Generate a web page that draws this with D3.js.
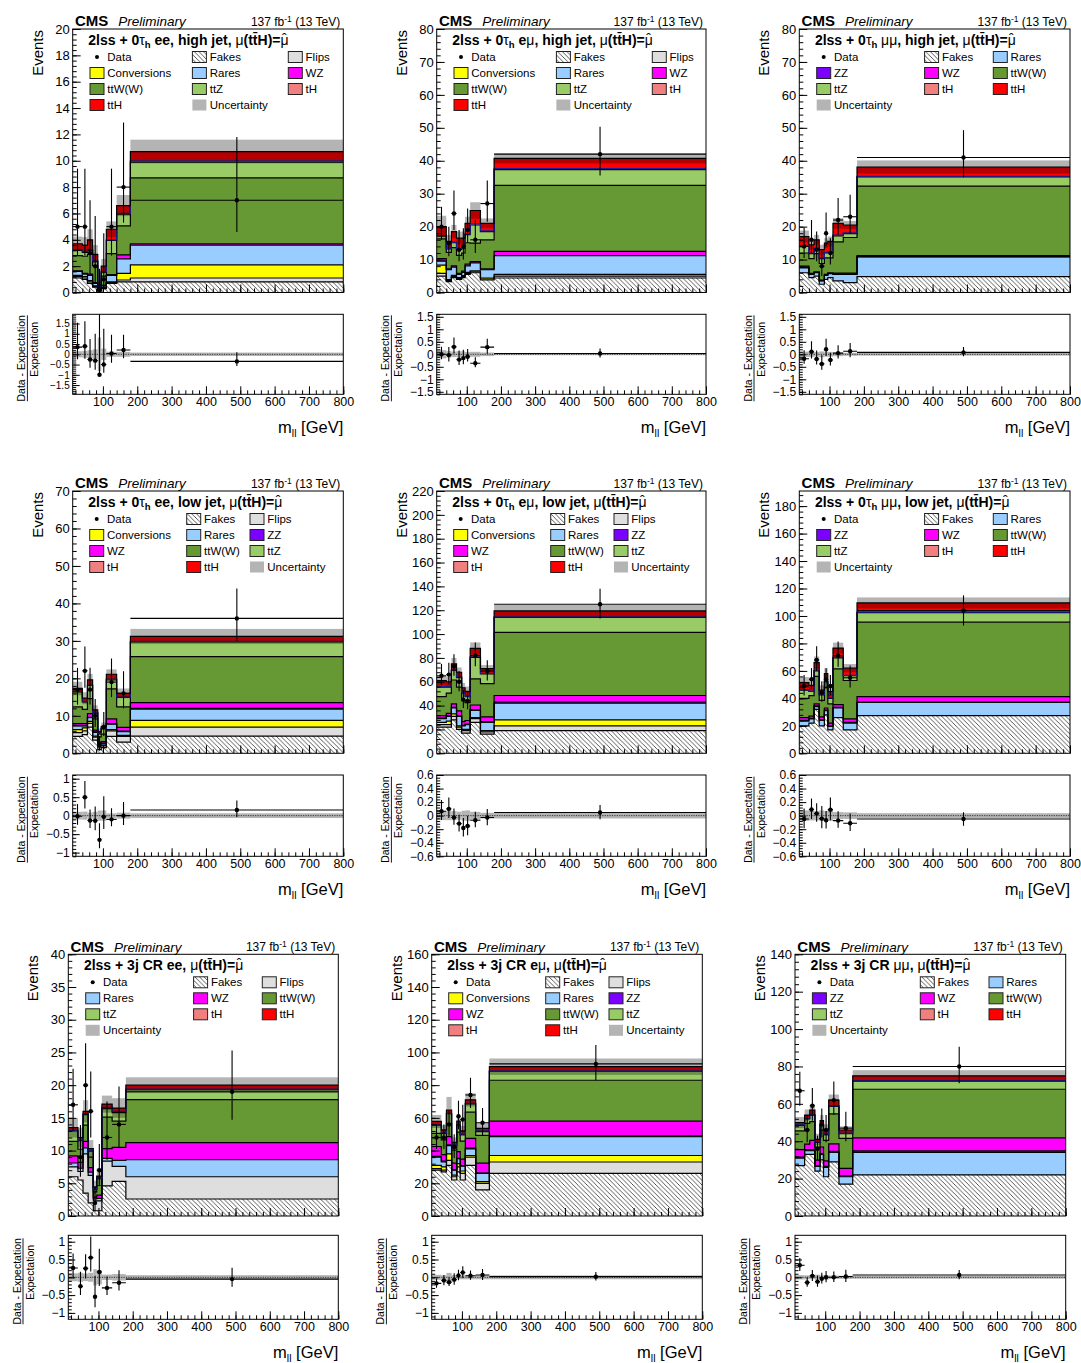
<!DOCTYPE html>
<html><head><meta charset="utf-8">
<script src="https://cdn.jsdelivr.net/npm/d3@7"></script>
<style>
body{margin:0;background:#fff}
svg{display:block}
text{font-family:"Liberation Sans",Arial,Helvetica,sans-serif;fill:#000}
</style>
</head><body>
<svg id="c" width="1081" height="1363"></svg>
<script>
// ---------------- shared binning / ticks ----------------
const binEdges = [12, 40, 55, 70, 85, 95, 110, 140, 180, 800];
const xTickLabels = [100, 200, 300, 400, 500, 600, 700, 800];

// ---------------- Panel 1: 2lss+0tau ee high jet ----------------
const eeHigh_Fakes = [1.1, 1.0, 0.7, 0.4, 0.1, 0.3, 0.7, 0.8, 0.8];
const eeHigh_Flips = [0.1, 0.1, 0.1, 0.05, 0.05, 0.05, 0.05, 0.15, 0.3];
const eeHigh_Conv  = [0.1, 0.1, 0.1, 0.05, 0.02, 0.05, 0.05, 0.5, 1.0];
const eeHigh_Rares = [0.3, 0.2, 0.4, 0.2, 0.05, 0.1, 0.5, 1.1, 1.5];
const eeHigh_WZ    = [0.05, 0.05, 0.1, 0.05, 0.02, 0.05, 0.05, 0.3, 0.1];
const eeHigh_ttW   = [1.15, 1.3, 1.5, 1.3, 0.2, 0.7, 1.6, 2.2, 5.0];
const eeHigh_ttZ   = [0.4, 0.3, 0.3, 0.3, 0.05, 0.3, 1.0, 0.9, 1.2];
const eeHigh_tH    = [0.05, 0.05, 0.05, 0.05, 0.01, 0.05, 0.05, 0.05, 0.1];
const eeHigh_ttH   = [0.45, 0.5, 0.75, 0.5, 0.05, 0.4, 0.8, 0.6, 0.7];
const eeHigh_Unc   = [0.55, 0.6, 0.8, 0.7, 0.45, 0.55, 0.6, 0.8, 0.9];
const eeHigh_Data  = [5, 5, 3, 2, 0, 1, 5, 8, 7];
const eeHigh_DataLo = [2.8, 2.8, 1.4, 0.7, 0, 0.2, 2.8, 5.3, 4.6];
const eeHigh_DataHi = [9.4, 9.4, 7.0, 5.8, 1.8, 4.5, 9.4, 12.9, 11.8];

// ---------------- Panel 2: 2lss+0tau emu high jet ----------------
const emHigh_Fakes = [5.0, 3.3, 4.5, 4.0, 4.5, 5.5, 6.0, 3.8, 4.4];
const emHigh_Flips = [0.8, 0.3, 0.4, 0.3, 0.3, 0.3, 0.3, 0.3, 0.6];
const emHigh_Conv  = [2.5, 0.3, 0.3, 0.2, 0.3, 0.3, 0.3, 0.3, 0.5];
const emHigh_Rares = [1.2, 3.0, 2.5, 1.0, 1.0, 2.0, 2.4, 2.5, 5.7];
const emHigh_WZ    = [0.8, 0.3, 0.4, 0.3, 0.4, 0.5, 0.4, 0.3, 1.3];
const emHigh_ttW   = [6.0, 5.0, 5.5, 5.5, 5.5, 6.5, 5.6, 8.8, 20.0];
const emHigh_ttZ   = [0.8, 1.0, 1.5, 1.8, 1.5, 2.5, 5.5, 2.5, 4.8];
const emHigh_tH    = [0.2, 0.2, 0.2, 0.2, 0.2, 0.2, 0.3, 0.2, 0.3];
const emHigh_ttH   = [2.7, 2.1, 3.2, 3.2, 2.8, 3.2, 4.1, 2.3, 3.1];
const emHigh_Unc   = [3.3, 2.0, 2.0, 2.0, 2.0, 2.0, 2.5, 1.5, 1.5];
const emHigh_Data  = [20, 15, 24, 13, 14, 19, 16, 27, 42];
const emHigh_DataLo = [16, 11, 19, 9.5, 10, 15, 12, 21.5, 35.5];
const emHigh_DataHi = [26, 20, 31, 19, 19.5, 25.5, 22, 34, 50.3];

// ---------------- Panel 3: 2lss+0tau mumu high jet ----------------
const mmHigh_Fakes = [6.0, 4.5, 5.0, 2.5, 4.0, 4.5, 3.5, 3.0, 4.8];
const mmHigh_Rares = [1.5, 1.0, 1.0, 1.0, 1.2, 1.2, 2.0, 2.5, 6.0];
const mmHigh_ZZ    = [0.2, 0.1, 0.1, 0.1, 0.1, 0.1, 0.1, 0.1, 0.1];
const mmHigh_WZ    = [0.3, 0.2, 0.2, 0.2, 0.2, 0.2, 0.3, 0.3, 0.3];
const mmHigh_ttW   = [4.0, 4.5, 5.5, 5.0, 5.0, 4.5, 9.5, 10.8, 21.1];
const mmHigh_ttZ   = [2.0, 1.5, 1.5, 1.5, 1.5, 1.7, 1.8, 1.2, 2.8];
const mmHigh_tH    = [0.2, 0.2, 0.2, 0.2, 0.2, 0.2, 0.2, 0.2, 0.2];
const mmHigh_ttH   = [2.8, 2.5, 2.5, 2.5, 2.8, 3.1, 3.6, 2.4, 2.8];
const mmHigh_Unc   = [1.8, 1.5, 1.5, 1.5, 1.5, 1.5, 1.6, 1.2, 2.0];
const mmHigh_Data  = [14, 16, 13, 8, 18, 12, 22, 23, 41];
const mmHigh_DataLo = [10.5, 12, 9.5, 5, 14, 8.5, 17.5, 18, 35];
const mmHigh_DataHi = [19.8, 22, 18.5, 12.5, 24.3, 16.5, 28.7, 29.7, 49.3];

// ---------------- Panel 4: 2lss+0tau ee low jet ----------------
const eeLow_Fakes = [4.5, 5.0, 7.0, 3.5, 1.0, 1.5, 4.5, 3.0, 4.6];
const eeLow_Flips = [1.0, 1.0, 1.0, 0.8, 1.0, 0.5, 1.5, 1.5, 2.4];
const eeLow_Conv  = [0.8, 0.8, 0.5, 0.3, 0.2, 0.2, 0.3, 0.3, 1.8];
const eeLow_Rares = [1.0, 0.5, 1.0, 1.0, 0.3, 0.4, 1.5, 1.0, 3.0];
const eeLow_ZZ    = [0.1, 0.1, 0.1, 0.1, 0.1, 0.1, 0.1, 0.1, 0.2];
const eeLow_WZ    = [0.5, 0.5, 1.0, 0.5, 0.3, 0.4, 1.3, 1.0, 1.5];
const eeLow_ttW   = [4.5, 3.8, 4.0, 3.0, 1.5, 2.0, 8.0, 5.5, 12.3];
const eeLow_ttZ   = [4.0, 2.0, 3.5, 1.5, 0.8, 1.5, 2.4, 2.5, 3.9];
const eeLow_tH    = [0.1, 0.1, 0.1, 0.1, 0.1, 0.1, 0.2, 0.1, 0.2];
const eeLow_ttH   = [0.8, 0.9, 1.4, 0.8, 0.5, 0.5, 1.3, 1.0, 1.3];
const eeLow_Unc   = [1.8, 1.6, 1.6, 1.2, 0.8, 1.0, 1.3, 1.3, 2.0];
const eeLow_Data  = [17, 22, 17, 10, 2, 7, 19, 16, 36];
const eeLow_DataLo = [13, 17.5, 13, 7, 0.7, 4.6, 15, 12, 30];
const eeLow_DataHi = [22.8, 28.5, 22.8, 14.5, 4.6, 11, 25.3, 21.9, 44];

// ---------------- Panel 5: 2lss+0tau emu low jet ----------------
const emLow_Fakes = [22, 22, 28, 20, 17, 17, 26, 16, 19];
const emLow_Flips = [2, 2, 3, 2, 2, 2, 3, 2, 4];
const emLow_Conv  = [2, 3, 2, 1, 1, 1, 1, 1, 5];
const emLow_Rares = [3, 4, 5, 8, 3, 4, 6, 7, 14];
const emLow_ZZ    = [0.5, 0.5, 0.5, 0.5, 0.5, 0.5, 0.5, 0.5, 1];
const emLow_WZ    = [2, 2, 3, 4, 3, 3, 4, 4, 5.5];
const emLow_ttW   = [16, 17, 20, 20, 18, 15, 22, 28, 53];
const emLow_ttZ   = [8, 5, 8, 8, 6, 5, 18, 8, 12.5];
const emLow_tH    = [0.5, 0.5, 0.5, 0.5, 0.5, 0.5, 0.5, 0.5, 0.5];
const emLow_ttH   = [5, 4, 5, 4, 4, 4, 7, 4, 4.9];
const emLow_Unc   = [4, 4, 5, 4, 4, 4, 5, 3, 5];
const emLow_Data  = [65, 66, 73, 60, 45, 44, 82, 69, 125];
const emLow_DataLo = [57, 58, 65, 52, 38, 37, 73, 61, 113];
const emLow_DataHi = [75, 76, 83, 69, 53, 52, 93, 78, 138];

// ---------------- Panel 6: 2lss+0tau mumu low jet ----------------
const mmLow_Fakes = [20, 22, 32, 20, 28, 17, 26, 17, 27.5];
const mmLow_Rares = [3.5, 3.0, 2.0, 4.0, 3.0, 2.5, 7.0, 5.0, 9.5];
const mmLow_ZZ    = [0.5, 0.5, 0.5, 0.5, 0.5, 0.5, 0.5, 0.5, 0.3];
const mmLow_WZ    = [2.0, 1.5, 1.5, 2.0, 1.5, 2.0, 2.0, 2.5, 4.0];
const mmLow_ttW   = [14, 15, 20, 12, 15, 14, 26, 28, 54.2];
const mmLow_ttZ   = [6, 3, 4, 4, 4, 4, 8, 3.5, 7.0];
const mmLow_tH    = [0.3, 0.3, 0.3, 0.3, 0.3, 0.3, 0.4, 0.3, 0.3];
const mmLow_ttH   = [5.2, 4.2, 5.7, 3.2, 5.7, 4.7, 6.7, 5.2, 6.7];
const mmLow_Unc   = [4, 3.5, 4.5, 3.5, 4, 3.5, 4, 3, 4];
const mmLow_Data  = [49, 54, 68, 44, 54, 49, 71, 55, 104];
const mmLow_DataLo = [42, 47, 60, 37.5, 47, 42, 63, 48, 93];
const mmLow_DataHi = [57, 62, 78, 52.5, 62, 57, 81.5, 64, 115];

// ---------------- Panel 7: 2lss+3j CR ee ----------------
const eeCR_Fakes = [6.0, 5.5, 3.5, 2.0, 0.8, 0.8, 4.6, 5.3, 2.6];
const eeCR_Flips = [1.5, 1.3, 6.0, 4.2, 1.5, 1.5, 3.8, 2.3, 3.4];
const eeCR_Rares = [0.6, 0.5, 0.9, 0.5, 0.3, 0.4, 0.4, 0.9, 2.6];
const eeCR_WZ    = [1.1, 0.9, 1.0, 0.7, 0.3, 0.5, 1.5, 2.0, 2.6];
const eeCR_ttW   = [2.2, 2.0, 2.5, 1.6, 0.8, 1.5, 4.8, 4.0, 6.6];
const eeCR_ttZ   = [1.6, 1.3, 1.6, 0.9, 0.4, 1.0, 1.3, 1.3, 1.5];
const eeCR_tH    = [0.1, 0.1, 0.1, 0.1, 0.05, 0.1, 0.2, 0.2, 0.1];
const eeCR_ttH   = [0.4, 0.4, 0.4, 0.3, 0.25, 0.3, 0.5, 0.5, 0.6];
const eeCR_Unc   = [1.5, 1.5, 1.7, 1.3, 1.0, 1.2, 1.3, 1.5, 1.2];
const eeCR_Data  = [17, 9, 20, 16, 2, 7, 12, 14, 19];
const eeCR_DataLo = [13, 6, 15.5, 12, 0.7, 4.6, 8.6, 10.4, 14.7];
const eeCR_DataHi = [22.5, 13.9, 26.4, 22.1, 4.6, 11, 17.5, 19.8, 25.3];

// ---------------- Panel 8: 2lss+3j CR emu ----------------
const emCR_Fakes = [28, 27, 31, 22, 27, 22, 31, 16, 26];
const emCR_Flips = [1, 1, 3, 2, 3, 4, 5, 4, 7];
const emCR_Conv  = [2, 2, 4, 1, 2, 1.5, 1, 1, 4];
const emCR_Rares = [5, 3, 5, 3, 3, 3, 4, 5, 11.5];
const emCR_ZZ    = [0.5, 0.5, 0.5, 0.3, 0.3, 0.3, 0.5, 0.3, 0.5];
const emCR_WZ    = [6, 4, 5, 4, 4, 4, 6, 6, 9];
const emCR_ttW   = [8, 9, 8, 8, 12, 11, 16, 17, 25];
const emCR_ttZ   = [5, 4, 6, 3, 4, 4, 5, 2.5, 5.5];
const emCR_tH    = [0.3, 0.3, 0.3, 0.2, 0.2, 0.2, 0.3, 0.3, 0.3];
const emCR_ttH   = [2, 1.8, 2, 1.5, 2.5, 2, 2.2, 1.5, 2.5];
const emCR_Unc   = [4, 3, 8, 3, 3, 3, 4, 3, 5];
const emCR_Data  = [48, 48, 56, 42, 61, 59, 74, 57, 93];
const emCR_DataLo = [41, 41, 49, 35.5, 53, 51, 66, 49.5, 83];
const emCR_DataHi = [56, 56, 64.5, 50, 70.5, 68, 84.5, 66, 104.6];

// ---------------- Panel 9: 2lss+3j CR mumu ----------------
const mmCR_Fakes = [27, 33, 33, 24, 30, 21, 29, 17, 22];
const mmCR_Rares = [4, 2, 2, 2.5, 3, 5, 5, 4, 12];
const mmCR_ZZ    = [0.5, 0.5, 0.5, 0.4, 0.4, 0.5, 0.6, 0.5, 0.8];
const mmCR_WZ    = [4, 3, 5, 3, 3.5, 3, 4, 4, 7];
const mmCR_ttW   = [10, 11, 10, 7, 9, 11, 16, 16, 26];
const mmCR_ttZ   = [3, 2.5, 3.5, 2.5, 3, 3, 4, 2.5, 4.3];
const mmCR_tH    = [0.3, 0.3, 0.3, 0.2, 0.3, 0.3, 0.3, 0.3, 0.3];
const mmCR_ttH   = [1.2, 1.7, 2.4, 1.4, 1.8, 2.2, 3.1, 1.7, 2.6];
const mmCR_Unc   = [3, 3, 3, 3, 3, 3, 3, 2, 3];
const mmCR_Data  = [67, 46, 59, 36, 49, 46, 62, 47, 80];
const mmCR_DataLo = [59, 39.5, 51, 30, 42, 39.5, 54, 40, 71];
const mmCR_DataHi = [77.2, 54, 68.5, 43, 57.5, 54, 71.9, 55.8, 90.6];

// ---------------- legends (entry order as drawn) ----------------
const legend_highEE = ['Data','Fakes','Flips','Conversions','Rares','WZ','ttW(W)','ttZ','tH','ttH','Uncertainty'];
const legend_full   = ['Data','Fakes','Flips','Conversions','Rares','ZZ','WZ','ttW(W)','ttZ','tH','ttH','Uncertainty'];
const legend_mumu   = ['Data','Fakes','Rares','ZZ','WZ','ttW(W)','ttZ','tH','ttH','Uncertainty'];
const legend_eeCR   = ['Data','Fakes','Flips','Rares','WZ','ttW(W)','ttZ','tH','ttH','Uncertainty'];

// ---------------- styling / layout ----------------
const PROC_ORDER = ['Fakes','Flips','Conversions','Rares','ZZ','WZ','ttW(W)','ttZ','tH','ttH'];
const procFill = {Fakes:'url(#hatch)', Flips:'#dedede', Conversions:'#ffff00', Rares:'#99ccff',
  ZZ:'#7b00ff', WZ:'#ff00ff', 'ttW(W)':'#669933', ttZ:'#99cc66', tH:'#f08080', ttH:'#ff0000'};
const UNC_COLOR = '#b4b4b4';

const rows = [
  {top:29,    bot:292.5, rTop:314.3,  rBot:394.3,  lefts:[72.7,436.7,799.3], widths:[270.6,269.3,270.7]},
  {top:491,   bot:753.3, rTop:775,    rBot:856.3,  lefts:[72.7,436.7,799.3], widths:[270.6,269.3,270.7]},
  {top:954.3, bot:1216,  rTop:1235.3, rBot:1319.3, lefts:[68.3,431.7,795],   widths:[270,270.6,270.7]}
];
const LEG_A = [17.3, 119.7, 215.6], LEG_B = [17, 114, 177.3], LEG_C = [17.4, 125.3, 194];

const panels = [
 {row:0,col:0, sel:'tau', chan:'ee', cat:'high jet', ymax:20, ystep:2, rlim:1.95, rstep:0.5, rfs:10, legend:legend_highEE, legCols:LEG_A,
  comps:{Fakes:eeHigh_Fakes, Flips:eeHigh_Flips, Conversions:eeHigh_Conv, Rares:eeHigh_Rares, WZ:eeHigh_WZ, 'ttW(W)':eeHigh_ttW, ttZ:eeHigh_ttZ, tH:eeHigh_tH, ttH:eeHigh_ttH},
  unc:eeHigh_Unc, data:eeHigh_Data, lo:eeHigh_DataLo, hi:eeHigh_DataHi},
 {row:0,col:1, sel:'tau', chan:'em', cat:'high jet', ymax:80, ystep:10, rlim:1.6, rstep:0.5, rfs:12, legend:legend_highEE, legCols:LEG_A,
  comps:{Fakes:emHigh_Fakes, Flips:emHigh_Flips, Conversions:emHigh_Conv, Rares:emHigh_Rares, WZ:emHigh_WZ, 'ttW(W)':emHigh_ttW, ttZ:emHigh_ttZ, tH:emHigh_tH, ttH:emHigh_ttH},
  unc:emHigh_Unc, data:emHigh_Data, lo:emHigh_DataLo, hi:emHigh_DataHi},
 {row:0,col:2, sel:'tau', chan:'mm', cat:'high jet', ymax:80, ystep:10, rlim:1.6, rstep:0.5, rfs:12, legend:legend_mumu, legCols:LEG_C,
  comps:{Fakes:mmHigh_Fakes, Rares:mmHigh_Rares, ZZ:mmHigh_ZZ, WZ:mmHigh_WZ, 'ttW(W)':mmHigh_ttW, ttZ:mmHigh_ttZ, tH:mmHigh_tH, ttH:mmHigh_ttH},
  unc:mmHigh_Unc, data:mmHigh_Data, lo:mmHigh_DataLo, hi:mmHigh_DataHi},
 {row:1,col:0, sel:'tau', chan:'ee', cat:'low jet', ymax:70, ystep:10, rlim:1.1, rstep:0.5, rfs:12, legend:legend_full, legCols:LEG_B,
  comps:{Fakes:eeLow_Fakes, Flips:eeLow_Flips, Conversions:eeLow_Conv, Rares:eeLow_Rares, ZZ:eeLow_ZZ, WZ:eeLow_WZ, 'ttW(W)':eeLow_ttW, ttZ:eeLow_ttZ, tH:eeLow_tH, ttH:eeLow_ttH},
  unc:eeLow_Unc, data:eeLow_Data, lo:eeLow_DataLo, hi:eeLow_DataHi},
 {row:1,col:1, sel:'tau', chan:'em', cat:'low jet', ymax:220, ystep:20, rlim:0.6, rstep:0.2, rfs:12, legend:legend_full, legCols:LEG_B,
  comps:{Fakes:emLow_Fakes, Flips:emLow_Flips, Conversions:emLow_Conv, Rares:emLow_Rares, ZZ:emLow_ZZ, WZ:emLow_WZ, 'ttW(W)':emLow_ttW, ttZ:emLow_ttZ, tH:emLow_tH, ttH:emLow_ttH},
  unc:emLow_Unc, data:emLow_Data, lo:emLow_DataLo, hi:emLow_DataHi},
 {row:1,col:2, sel:'tau', chan:'mm', cat:'low jet', ymax:191, ystep:20, rlim:0.6, rstep:0.2, rfs:12, legend:legend_mumu, legCols:LEG_C,
  comps:{Fakes:mmLow_Fakes, Rares:mmLow_Rares, ZZ:mmLow_ZZ, WZ:mmLow_WZ, 'ttW(W)':mmLow_ttW, ttZ:mmLow_ttZ, tH:mmLow_tH, ttH:mmLow_ttH},
  unc:mmLow_Unc, data:mmLow_Data, lo:mmLow_DataLo, hi:mmLow_DataHi},
 {row:2,col:0, sel:'3j', chan:'ee', cat:null, ymax:40, ystep:5, rlim:1.18, rstep:0.5, rfs:12, legend:legend_eeCR, legCols:LEG_C,
  comps:{Fakes:eeCR_Fakes, Flips:eeCR_Flips, Rares:eeCR_Rares, WZ:eeCR_WZ, 'ttW(W)':eeCR_ttW, ttZ:eeCR_ttZ, tH:eeCR_tH, ttH:eeCR_ttH},
  unc:eeCR_Unc, data:eeCR_Data, lo:eeCR_DataLo, hi:eeCR_DataHi},
 {row:2,col:1, sel:'3j', chan:'em', cat:null, ymax:160, ystep:20, rlim:1.18, rstep:0.5, rfs:12, legend:legend_full, legCols:LEG_B,
  comps:{Fakes:emCR_Fakes, Flips:emCR_Flips, Conversions:emCR_Conv, Rares:emCR_Rares, ZZ:emCR_ZZ, WZ:emCR_WZ, 'ttW(W)':emCR_ttW, ttZ:emCR_ttZ, tH:emCR_tH, ttH:emCR_ttH},
  unc:emCR_Unc, data:emCR_Data, lo:emCR_DataLo, hi:emCR_DataHi},
 {row:2,col:2, sel:'3j', chan:'mm', cat:null, ymax:140, ystep:20, rlim:1.18, rstep:0.5, rfs:12, legend:legend_mumu, legCols:LEG_C,
  comps:{Fakes:mmCR_Fakes, Rares:mmCR_Rares, ZZ:mmCR_ZZ, WZ:mmCR_WZ, 'ttW(W)':mmCR_ttW, ttZ:mmCR_ttZ, tH:mmCR_tH, ttH:mmCR_ttH},
  unc:mmCR_Unc, data:mmCR_Data, lo:mmCR_DataLo, hi:mmCR_DataHi}
];

// ---------------- drawing ----------------
const svg = d3.select('#c');
svg.append('rect').attr('width',1081).attr('height',1363).attr('fill','#fff');
const defs = svg.append('defs');
const pat = defs.append('pattern').attr('id','hatch').attr('patternUnits','userSpaceOnUse').attr('width',4.6).attr('height',4.6);
pat.append('rect').attr('width',4.6).attr('height',4.6).attr('fill','#fff');
pat.append('path').attr('d','M-1,-1 L5.6,5.6 M-1,3.6 L1,5.6 M3.6,-1 L5.6,1').attr('stroke','#222').attr('stroke-width',0.75);

const fmtR = v => (v < 0 ? '\u2212' : '') + String(+Math.abs(v).toFixed(2));

function ticksBetween(lo, hi, step) {
  const out = [];
  const k0 = Math.ceil(lo / step - 1e-9), k1 = Math.floor(hi / step + 1e-9);
  for (let k = k0; k <= k1; k++) out.push(+(k * step).toFixed(4));
  return out;
}

function addSegs(t, segs) {
  segs.forEach(s => {
    const ts = t.append('tspan').text(s.t);
    if (s.w) ts.attr('font-weight', s.w);
    if (s.fs) ts.attr('font-size', s.fs);
    if (s.dy) ts.attr('dy', s.dy);
    if (s.dx) ts.attr('dx', s.dx);
    if (s.st) ts.attr('font-style', s.st);
  });
}

function titleSegs(p) {
  const segs = [];
  if (p.sel === 'tau') {
    segs.push({t:'2lss + 0', w:'bold'}, {t:'\u03c4', w:'normal'}, {t:'h', w:'bold', fs:9.5, dy:3.5});
    if (p.chan === 'ee') segs.push({t:' ee, ', w:'bold', dy:-3.5});
    else if (p.chan === 'em') segs.push({t:' e', w:'bold', dy:-3.5}, {t:'\u03bc', w:'normal'}, {t:', ', w:'bold'});
    else segs.push({t:'  \u03bc\u03bc', w:'normal', dy:-3.5}, {t:', ', w:'bold'});
    segs.push({t:p.cat + ', ', w:'bold'});
  } else {
    segs.push({t:'2lss + 3j CR ', w:'bold'});
    if (p.chan === 'ee') segs.push({t:'ee, ', w:'bold'});
    else if (p.chan === 'em') segs.push({t:'e', w:'bold'}, {t:'\u03bc', w:'normal'}, {t:', ', w:'bold'});
    else segs.push({t:' \u03bc\u03bc', w:'normal'}, {t:', ', w:'bold'});
  }
  segs.push({t:'\u03bc', w:'normal'}, {t:'(tt\u0304H)=', w:'bold'}, {t:'\u03bc', w:'normal'},
            {t:'\u02c6', w:'normal', dx:-6.6, dy:-0.5}, {t:'', dy:0.5});
  return segs;
}

panels.forEach((p, idx) => {
  const row = rows[p.row];
  const L = row.lefts[p.col], Wd = row.widths[p.col], R = L + Wd;
  const top = row.top, bot = row.bot, rTop = row.rTop, rBot = row.rBot;
  const nb = binEdges.length - 1;
  const x = d3.scaleLinear().domain([binEdges[0], binEdges[nb]]).range([L, R]);
  const y = d3.scaleLinear().domain([0, p.ymax]).range([bot, top]);
  const yr = d3.scaleLinear().domain([-p.rlim, p.rlim]).range([rBot, rTop]);
  const g = svg.append('g');
  const cid = 'clipM' + idx, rid = 'clipR' + idx;
  defs.append('clipPath').attr('id', cid).append('rect').attr('x', L).attr('y', top).attr('width', Wd).attr('height', bot - top);
  defs.append('clipPath').attr('id', rid).append('rect').attr('x', L).attr('y', rTop).attr('width', Wd).attr('height', rBot - rTop);

  // stack
  let cum = new Array(nb).fill(0);
  const layers = [];
  PROC_ORDER.forEach(name => {
    const vals = p.comps[name]; if (!vals) return;
    const lo = cum.slice(), hi = cum.map((c, i) => c + vals[i]);
    layers.push({name, lo, hi}); cum = hi;
  });
  const total = cum;
  const stepPts = l => { const a = []; for (let i = 0; i < nb; i++) a.push({x:binEdges[i], lo:l.lo[i], hi:l.hi[i]});
    a.push({x:binEdges[nb], lo:l.lo[nb-1], hi:l.hi[nb-1]}); return a; };
  const area = d3.area().curve(d3.curveStepAfter).x(d => x(d.x)).y0(d => y(d.lo)).y1(d => y(d.hi));
  const line = d3.line().curve(d3.curveStepAfter).x(d => x(d.x)).y(d => y(d.hi));
  const mg = g.append('g').attr('clip-path', `url(#${cid})`);
  mg.selectAll('path.layer').data(layers).join('path').attr('class','layer')
    .attr('d', l => area(stepPts(l))).attr('fill', l => procFill[l.name]);
  mg.selectAll('path.edge').data(layers).join('path').attr('class','edge')
    .attr('d', l => line(stepPts(l))).attr('fill','none')
    .attr('stroke', l => l.name === 'tH' ? '#1c1c9a' : '#000').attr('stroke-width', 1.2);
  const bins = d3.range(nb);
  mg.selectAll('rect.unc').data(bins).join('rect').attr('class','unc')
    .attr('x', i => x(binEdges[i])).attr('width', i => x(binEdges[i+1]) - x(binEdges[i]))
    .attr('y', i => y(total[i] + p.unc[i])).attr('height', i => y(total[i] - p.unc[i]) - y(total[i] + p.unc[i]))
    .attr('fill', UNC_COLOR).style('mix-blend-mode','multiply');
  // data
  const cx = i => x((binEdges[i] + binEdges[i+1]) / 2);
  mg.selectAll('line.ev').data(bins).join('line').attr('class','ev')
    .attr('x1', cx).attr('x2', cx).attr('y1', i => y(p.lo[i])).attr('y2', i => y(p.hi[i]))
    .attr('stroke','#000').attr('stroke-width',1.1);
  mg.selectAll('line.eh').data(bins).join('line').attr('class','eh')
    .attr('x1', i => x(binEdges[i])).attr('x2', i => x(binEdges[i+1])).attr('y1', i => y(p.data[i])).attr('y2', i => y(p.data[i]))
    .attr('stroke','#000').attr('stroke-width',1.1);
  mg.selectAll('circle.dp').data(bins).join('circle').attr('class','dp')
    .attr('cx', cx).attr('cy', i => y(p.data[i])).attr('r', 2.2).attr('fill','#000');

  // ratio
  const rg = g.append('g').attr('clip-path', `url(#${rid})`);
  rg.selectAll('rect.runc').data(bins).join('rect').attr('class','runc')
    .attr('x', i => x(binEdges[i])).attr('width', i => x(binEdges[i+1]) - x(binEdges[i]))
    .attr('y', i => yr(p.unc[i] / total[i])).attr('height', i => yr(-p.unc[i] / total[i]) - yr(p.unc[i] / total[i]))
    .attr('fill', UNC_COLOR);
  rg.append('line').attr('x1', L).attr('x2', R).attr('y1', yr(0)).attr('y2', yr(0))
    .attr('stroke','#333').attr('stroke-width',1).attr('stroke-dasharray','1.2,1.2');
  const rv = i => (p.data[i] - total[i]) / total[i];
  rg.selectAll('line.rv').data(bins).join('line').attr('class','rv')
    .attr('x1', cx).attr('x2', cx).attr('y1', i => yr((p.lo[i] - total[i]) / total[i])).attr('y2', i => yr((p.hi[i] - total[i]) / total[i]))
    .attr('stroke','#000').attr('stroke-width',1.1);
  rg.selectAll('line.rh').data(bins).join('line').attr('class','rh')
    .attr('x1', i => x(binEdges[i])).attr('x2', i => x(binEdges[i+1])).attr('y1', i => yr(rv(i))).attr('y2', i => yr(rv(i)))
    .attr('stroke','#000').attr('stroke-width',1.1);
  rg.selectAll('circle.rp').data(bins).join('circle').attr('class','rp')
    .attr('cx', cx).attr('cy', i => yr(rv(i))).attr('r', 2.2).attr('fill','#000');

  // frames
  g.append('rect').attr('x', L).attr('y', top).attr('width', Wd).attr('height', bot - top).attr('fill','none').attr('stroke','#000').attr('stroke-width',1);
  g.append('rect').attr('x', L).attr('y', rTop).attr('width', Wd).attr('height', rBot - rTop).attr('fill','none').attr('stroke','#000').attr('stroke-width',1);

  // axes
  const styleAxis = (a, fs) => { a.select('.domain').remove(); a.attr('font-size', fs).attr('font-family','"Liberation Sans",Arial,sans-serif');
    a.selectAll('line').attr('stroke','#000'); };
  const yMaj = ticksBetween(0, p.ymax, p.ystep), yMin = ticksBetween(0, p.ymax, p.ystep / 5);
  styleAxis(g.append('g').attr('transform', `translate(${L},0)`)
    .call(d3.axisLeft(y).tickValues(yMaj).tickSizeInner(-8).tickSizeOuter(0).tickPadding(3).tickFormat(d3.format('d'))), 13);
  styleAxis(g.append('g').attr('transform', `translate(${L},0)`)
    .call(d3.axisLeft(y).tickValues(yMin).tickSizeInner(-4).tickSizeOuter(0).tickFormat('')), 13);
  const xMin = ticksBetween(20, 800, 20);
  styleAxis(g.append('g').attr('transform', `translate(0,${bot})`)
    .call(d3.axisBottom(x).tickValues(xTickLabels).tickSizeInner(-8).tickSizeOuter(0).tickFormat('')), 12);
  styleAxis(g.append('g').attr('transform', `translate(0,${bot})`)
    .call(d3.axisBottom(x).tickValues(xMin).tickSizeInner(-4).tickSizeOuter(0).tickFormat('')), 12);
  styleAxis(g.append('g').attr('transform', `translate(0,${rBot})`)
    .call(d3.axisBottom(x).tickValues(xTickLabels).tickSizeInner(-8).tickSizeOuter(0).tickPadding(3).tickFormat(d3.format('d'))), 12.5);
  styleAxis(g.append('g').attr('transform', `translate(0,${rBot})`)
    .call(d3.axisBottom(x).tickValues(xMin).tickSizeInner(-4).tickSizeOuter(0).tickFormat('')), 12);
  const rMaj = ticksBetween(-p.rlim, p.rlim, p.rstep), rMin = ticksBetween(-p.rlim, p.rlim, p.rstep / 5);
  styleAxis(g.append('g').attr('transform', `translate(${L},0)`)
    .call(d3.axisLeft(yr).tickValues(rMaj).tickSizeInner(-7).tickSizeOuter(0).tickPadding(3).tickFormat(fmtR)), p.rfs);
  styleAxis(g.append('g').attr('transform', `translate(${L},0)`)
    .call(d3.axisLeft(yr).tickValues(rMin).tickSizeInner(-3.5).tickSizeOuter(0).tickFormat('')), 12);

  // axis titles
  g.append('text').attr('transform', `translate(${L - 30},${top + 1}) rotate(-90)`).attr('text-anchor','end')
    .attr('font-size', 15).text('Events');
  const ymid = (rTop + rBot) / 2;
  g.append('text').attr('transform', `translate(${L - 47.7},${ymid + 4}) rotate(-90)`).attr('text-anchor','middle')
    .attr('font-size', 10.5).text('Data - Expectation');
  g.append('text').attr('transform', `translate(${L - 34.7},${ymid - 5}) rotate(-90)`).attr('text-anchor','middle')
    .attr('font-size', 10.5).text('Expectation');
  g.append('line').attr('x1', L - 45.3).attr('x2', L - 45.3).attr('y1', ymid + 4 - 43).attr('y2', ymid + 4 + 43).attr('stroke','#000').attr('stroke-width',0.9);
  const xt = g.append('text').attr('x', R).attr('y', rBot + 39).attr('text-anchor','end').attr('font-size', 16.5);
  addSegs(xt, [{t:'m'}, {t:'ll', fs:10.5, dy:4}, {t:' [GeV]', dy:-4}]);

  // header
  g.append('text').attr('x', L + 2.3).attr('y', top - 2.6).attr('font-size', 15).attr('font-weight','bold').text('CMS');
  g.append('text').attr('x', L + 45.6).attr('y', top - 2.6).attr('font-size', 13.5).attr('font-style','italic').text('Preliminary');
  const lt = g.append('text').attr('x', R - 3).attr('y', top - 3).attr('text-anchor','end').attr('font-size', 12);
  addSegs(lt, [{t:'137 fb'}, {t:'-1', fs:8.5, dy:-4.5}, {t:' (13 TeV)', dy:4.5}]);

  // in-frame title
  const tt = g.append('text').attr('x', L + 15.6).attr('y', top + 15.5).attr('font-size', 14);
  addSegs(tt, titleSegs(p));

  // legend
  const lg = g.append('g');
  p.legend.forEach((name, i) => {
    const r = Math.floor(i / 3), c = i % 3;
    const bx = L + p.legCols[c], cy = top + 28 + r * 16;
    if (name === 'Data') {
      lg.append('circle').attr('cx', bx + 7).attr('cy', cy).attr('r', 2).attr('fill','#000');
    } else if (name === 'Uncertainty') {
      lg.append('rect').attr('x', bx).attr('y', cy - 5.5).attr('width', 14).attr('height', 11).attr('fill', UNC_COLOR);
    } else {
      lg.append('rect').attr('x', bx).attr('y', cy - 5.5).attr('width', 14).attr('height', 11)
        .attr('fill', procFill[name]).attr('stroke','#222').attr('stroke-width',1);
    }
    lg.append('text').attr('x', bx + 17.3).attr('y', cy + 4).attr('font-size', 11.5).text(name);
  });
});
</script>
</body></html>
